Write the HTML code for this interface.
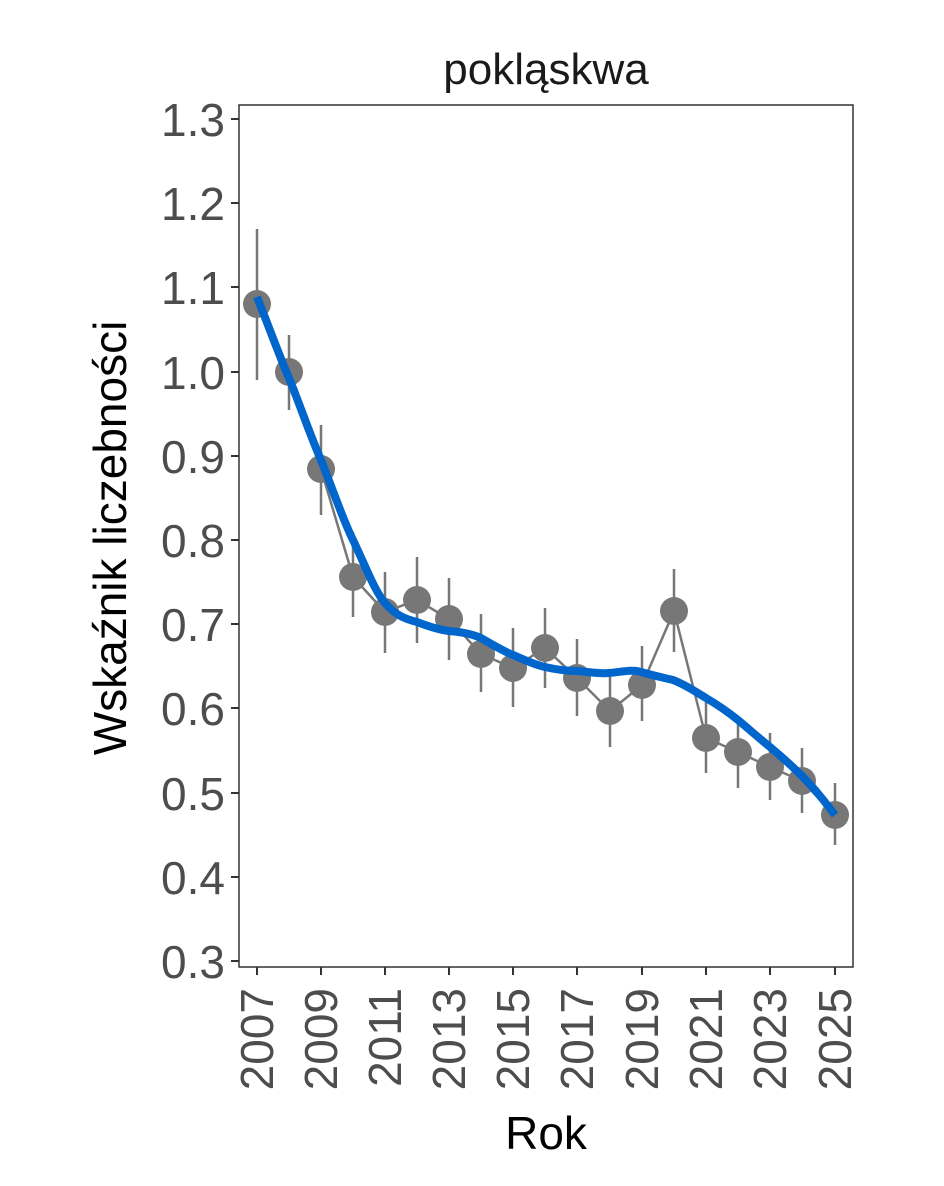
<!DOCTYPE html>
<html><head><meta charset="utf-8"><style>body{margin:0;background:#fff}</style></head><body>
<svg width="944" height="1181" xmlns="http://www.w3.org/2000/svg" font-family="Liberation Sans, Arial, sans-serif">
<rect width="944" height="1181" fill="#fff"/>
<text x="546" y="84" font-size="44" text-anchor="middle" fill="#1a1a1a">pokląskwa</text>
<rect x="239" y="105" width="614" height="862" fill="none" stroke="#333" stroke-width="1.5"/>
<g stroke="#333" stroke-width="2">
<line x1="231" y1="119" x2="239" y2="119"/><line x1="231" y1="203" x2="239" y2="203"/><line x1="231" y1="287" x2="239" y2="287"/><line x1="231" y1="372" x2="239" y2="372"/><line x1="231" y1="456" x2="239" y2="456"/><line x1="231" y1="540" x2="239" y2="540"/><line x1="231" y1="624" x2="239" y2="624"/><line x1="231" y1="708" x2="239" y2="708"/><line x1="231" y1="793" x2="239" y2="793"/><line x1="231" y1="877" x2="239" y2="877"/><line x1="231" y1="961" x2="239" y2="961"/>
<line x1="257" y1="967" x2="257" y2="975"/><line x1="321" y1="967" x2="321" y2="975"/><line x1="385" y1="967" x2="385" y2="975"/><line x1="449" y1="967" x2="449" y2="975"/><line x1="513" y1="967" x2="513" y2="975"/><line x1="577" y1="967" x2="577" y2="975"/><line x1="642" y1="967" x2="642" y2="975"/><line x1="706" y1="967" x2="706" y2="975"/><line x1="770" y1="967" x2="770" y2="975"/><line x1="835" y1="967" x2="835" y2="975"/>
</g>
<g font-size="46" fill="#4d4d4d" text-anchor="end">
<text x="225" y="136">1.3</text><text x="225" y="220">1.2</text><text x="225" y="304">1.1</text><text x="225" y="389">1.0</text><text x="225" y="473">0.9</text><text x="225" y="557">0.8</text><text x="225" y="641">0.7</text><text x="225" y="725">0.6</text><text x="225" y="810">0.5</text><text x="225" y="894">0.4</text><text x="225" y="978">0.3</text>
</g>
<g font-size="46" fill="#4d4d4d" text-anchor="end">
<text transform="translate(273,988) rotate(-90)">2007</text>
<text transform="translate(337,988) rotate(-90)">2009</text>
<text transform="translate(401,988) rotate(-90)">2011</text>
<text transform="translate(465,988) rotate(-90)">2013</text>
<text transform="translate(529,988) rotate(-90)">2015</text>
<text transform="translate(593,988) rotate(-90)">2017</text>
<text transform="translate(658,988) rotate(-90)">2019</text>
<text transform="translate(722,988) rotate(-90)">2021</text>
<text transform="translate(786,988) rotate(-90)">2023</text>
<text transform="translate(851,988) rotate(-90)">2025</text>
</g>
<text x="546" y="1149" font-size="46" text-anchor="middle" fill="#000">Rok</text>
<text transform="translate(126,538) rotate(-90)" font-size="46" text-anchor="middle" fill="#000">Wskaźnik liczebności</text>
<g stroke="#777" stroke-width="2.5">
<line x1="257" y1="229" x2="257" y2="380"/><line x1="289" y1="335" x2="289" y2="410"/><line x1="321" y1="425" x2="321" y2="515"/><line x1="353" y1="532" x2="353" y2="617"/><line x1="385" y1="572" x2="385" y2="653"/><line x1="417" y1="557" x2="417" y2="643"/><line x1="449" y1="578" x2="449" y2="660"/><line x1="481" y1="614" x2="481" y2="692"/><line x1="513" y1="628" x2="513" y2="707"/><line x1="545" y1="608" x2="545" y2="688"/><line x1="577" y1="639" x2="577" y2="716"/><line x1="610" y1="670" x2="610" y2="747"/><line x1="642" y1="646" x2="642" y2="721"/><line x1="674" y1="569" x2="674" y2="652"/><line x1="706" y1="700" x2="706" y2="773"/><line x1="738" y1="718" x2="738" y2="788"/><line x1="770" y1="733" x2="770" y2="800"/><line x1="802" y1="748" x2="802" y2="813"/><line x1="835" y1="783" x2="835" y2="845"/>
</g>
<polyline fill="none" stroke="#777" stroke-width="2.5" points="257,304 289,372 321,469 353,577 385,612 417,600 449,619 481,654 513,668 545,648 577,678 610,711 642,685 674,611 706,738 738,752 770,767 802,781 835,815"/>
<g fill="#777">
<circle cx="257" cy="304" r="14"/><circle cx="289" cy="372" r="14"/><circle cx="321" cy="469" r="14"/><circle cx="353" cy="577" r="14"/><circle cx="385" cy="612" r="14"/><circle cx="417" cy="600" r="14"/><circle cx="449" cy="619" r="14"/><circle cx="481" cy="654" r="14"/><circle cx="513" cy="668" r="14"/><circle cx="545" cy="648" r="14"/><circle cx="577" cy="678" r="14"/><circle cx="610" cy="711" r="14"/><circle cx="642" cy="685" r="14"/><circle cx="674" cy="611" r="14"/><circle cx="706" cy="738" r="14"/><circle cx="738" cy="752" r="14"/><circle cx="770" cy="767" r="14"/><circle cx="802" cy="781" r="14"/><circle cx="835" cy="815" r="14"/>
</g>
<path fill="none" stroke="#0066cc" stroke-width="8" d="M257,297 C270,330 285,370 289,378 C300,405 310,435 321,460 C333,490 343,520 353,540 C365,565 375,592 385,603 C395,615 405,619 417,622 C430,627 440,630 449,631 C462,632 472,634 481,638 C493,645 503,651 513,655 C525,660 535,665 545,667 C558,670 568,671 577,671 C590,672 600,674 609,673 C622,672 632,669 641,672 C655,676 665,678 673,680 C686,685 696,692 706,698 C718,705 728,712 738,720 C750,730 760,739 770,747 C782,757 792,766 802,776 C815,789 825,802 835,815"/>
</svg>
</body></html>
